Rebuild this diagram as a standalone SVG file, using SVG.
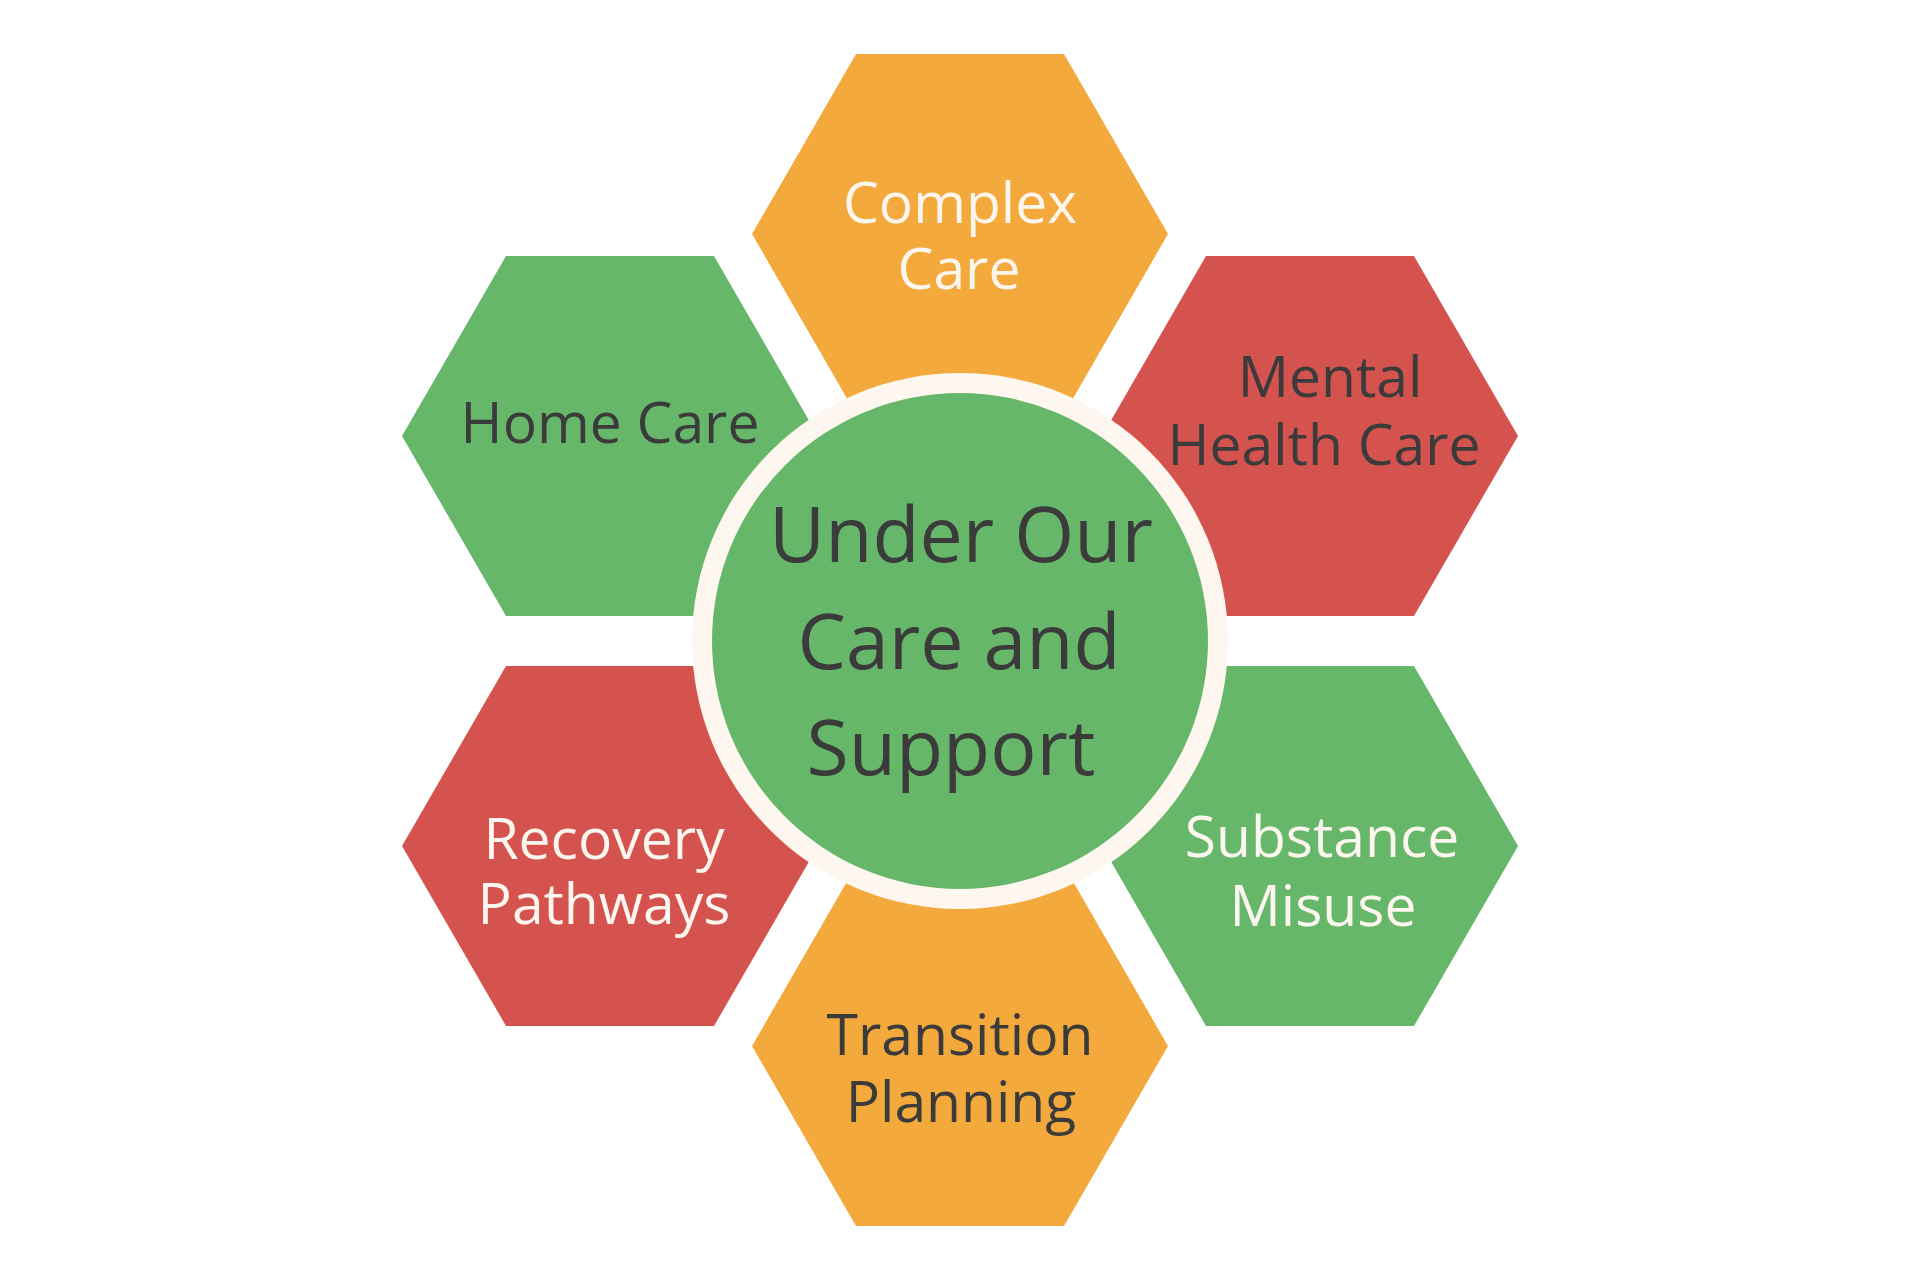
<svg xmlns="http://www.w3.org/2000/svg" xmlns:xlink="http://www.w3.org/1999/xlink" width="1920" height="1280" viewBox="0 0 1920 1280">
  <style>
    .orange { fill: #F3A93C; }
    .green { fill: #66B76A; }
    .red { fill: #D4534E; }
    .lbl { font-family: "Open Sans", "Noto Sans", "Liberation Sans", sans-serif; font-size: 57px; text-anchor: middle; }
    .dark { fill: #3B3B3B; }
    .light { fill: #FDF6EE; }
    .big { font-family: "Open Sans", "Noto Sans", "Liberation Sans", sans-serif; font-size: 77px; text-anchor: middle; fill: #3B3B3B; }
  </style>
  <defs>
    <polygon id="hex" points="-208,0 -104,-180 104,-180 208,0 104,180 -104,180"/>
  </defs>
  <rect x="0" y="0" width="1920" height="1280" fill="#FFFFFF"/>
  <g id="connectors"/>
  <g id="node-complex-care">
    <use xlink:href="#hex" href="#hex" class="orange" transform="translate(960,234)"/>
    <text class="lbl light" x="960" y="223">Complex</text>
    <text class="lbl light" x="959" y="289">Care</text>
  </g>
  <g id="node-home-care">
    <use xlink:href="#hex" href="#hex" class="green" transform="translate(610,436)"/>
    <text class="lbl dark" x="610" y="443">Home Care</text>
  </g>
  <g id="node-mental-health-care">
    <use xlink:href="#hex" href="#hex" class="red" transform="translate(1310,436)"/>
    <text class="lbl dark" x="1330" y="397">Mental</text>
    <text class="lbl dark" x="1324" y="465">Health Care</text>
  </g>
  <g id="node-recovery-pathways">
    <use xlink:href="#hex" href="#hex" class="red" transform="translate(610,846)"/>
    <text class="lbl light" x="604" y="859">Recovery</text>
    <text class="lbl light" x="604" y="924">Pathways</text>
  </g>
  <g id="node-substance-misuse">
    <use xlink:href="#hex" href="#hex" class="green" transform="translate(1310,846)"/>
    <text class="lbl light" x="1322" y="857">Substance</text>
    <text class="lbl light" x="1323" y="926">Misuse</text>
  </g>
  <g id="node-transition-planning">
    <use xlink:href="#hex" href="#hex" class="orange" transform="translate(960,1046)"/>
    <text class="lbl dark" x="960" y="1055">Transition</text>
    <text class="lbl dark" x="961" y="1122">Planning</text>
  </g>
  <g id="node-center">
    <circle cx="960" cy="641" r="268" fill="#FDF7F0"/>
    <circle cx="960" cy="641" r="248" fill="#66B76A"/>
    <text class="big" x="961" y="562">Under Our</text>
    <text class="big" x="959" y="669">Care and</text>
    <text class="big" x="951" y="775">Support</text>
  </g>
</svg>
